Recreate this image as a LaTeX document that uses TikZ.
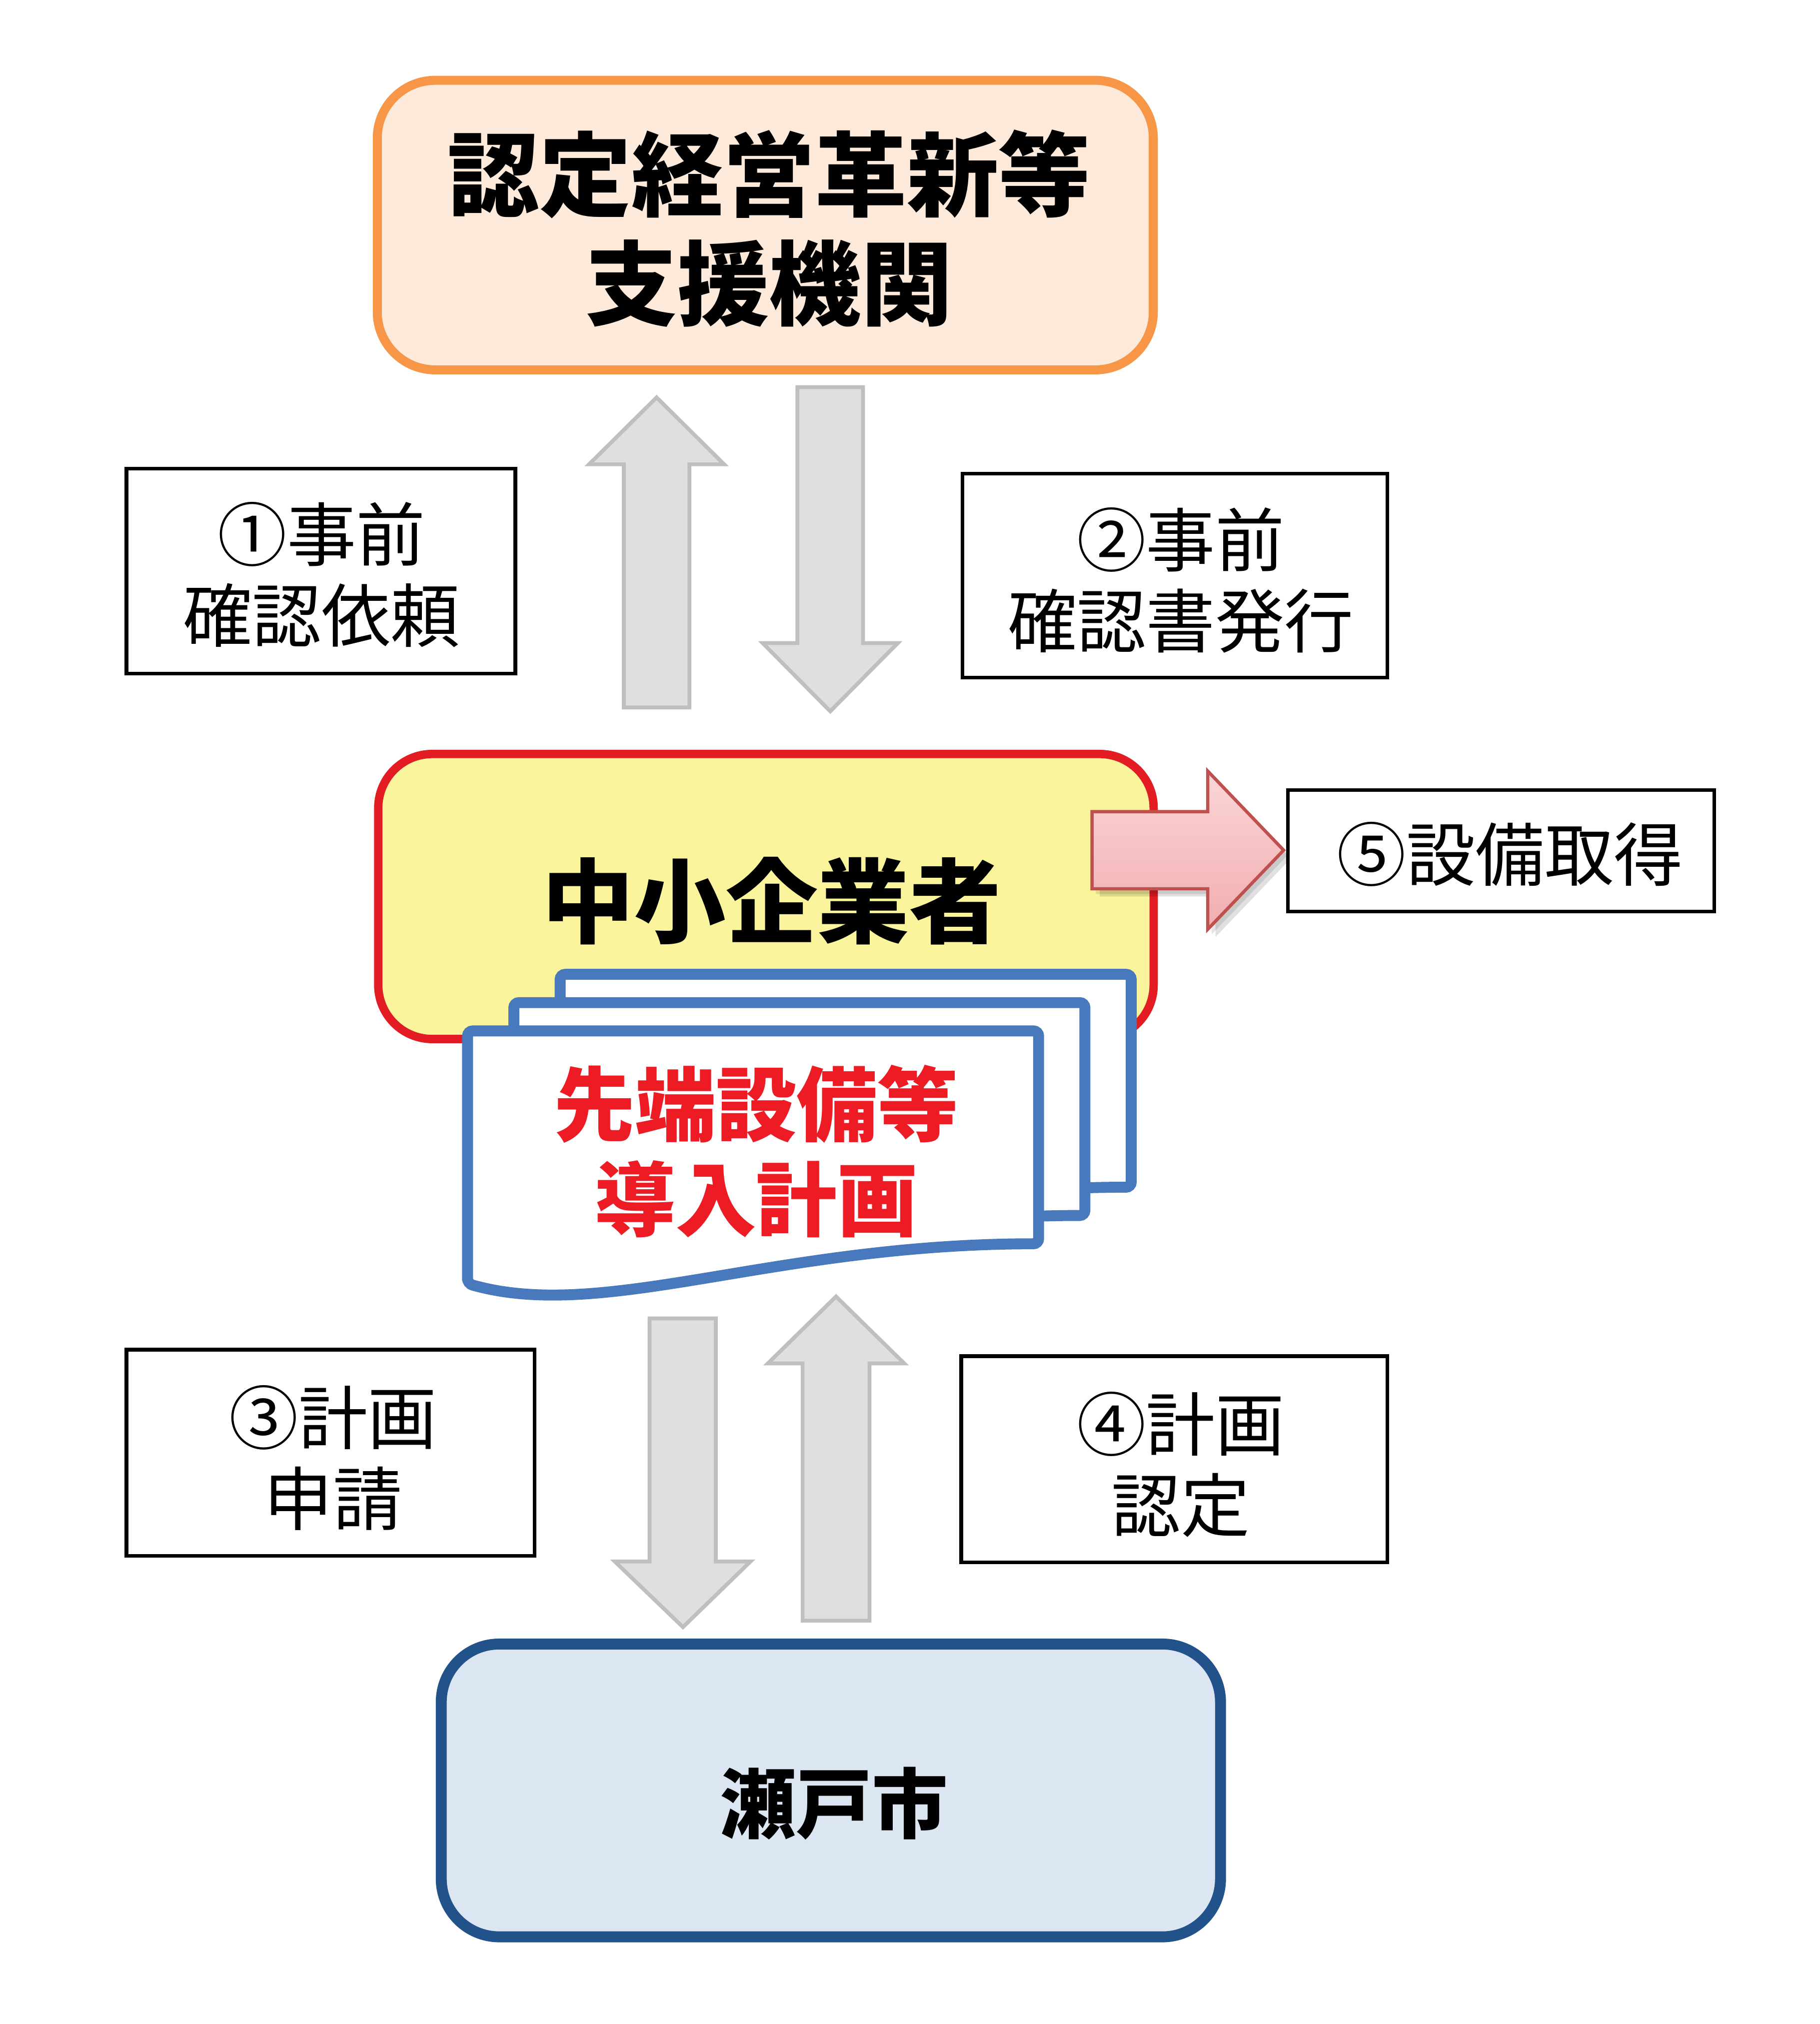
\documentclass[tikz,border=0pt]{standalone}
\usepackage{fontspec}
\setmainfont{Noto Sans CJK JP}
\definecolor{orgS}{HTML}{F79646}
\definecolor{orgF}{HTML}{FDEADA}
\definecolor{yelF}{HTML}{FAF49C}
\definecolor{redS}{HTML}{E31B23}
\definecolor{bluS}{HTML}{21528A}
\definecolor{bluF}{HTML}{DCE6F2}
\definecolor{pagS}{HTML}{4779BC}
\definecolor{docR}{HTML}{ED1C24}
\definecolor{gryF}{HTML}{DEDFE1}
\definecolor{gryS}{HTML}{BFBFBF}
\definecolor{arrS}{HTML}{C0504D}
\definecolor{arrT}{HTML}{FAD6D7}
\definecolor{arrB}{HTML}{F2ADB0}
\begin{document}
\begin{tikzpicture}[x=0.01cm,y=-0.01cm,
  bigbox/.style={draw,rounded corners=0.45cm,inner sep=0pt},
  labelbox/.style={draw=black,line width=0.028cm,fill=white,inner sep=0pt},
  labeltext/.style={align=center,inner sep=0pt,font=\fontsize{15.3pt}{17.9pt}\selectfont},
  headtext/.style={align=center,inner sep=0pt,font=\fontsize{20.3pt}{24.1pt}\selectfont\bfseries},
  grayarrow/.style={draw=gryS,fill=gryF,line width=0.03cm,line join=miter},
  pagestyle/.style={draw=pagS,fill=white,line width=0.085cm,rounded corners=0.04cm}]
\useasboundingbox (0,0) rectangle (1415,1573.6);

% --- top box
\node[bigbox,draw=orgS,fill=orgF,line width=0.07cm,minimum width=6.03cm,minimum height=2.25cm] (org) at (595,175) {};
\node[headtext] (orgT) at (598,177.5) {認定経営革新等\\支援機関};

% --- arrows between top box and company
\coordinate (a1tail) at (510.5,550);
\coordinate (a1tip) at (510.5,309);
\draw[grayarrow] (a1tail) ++(-25.5,0) -- ++(0,-189) -- ++(-27,0) -- (a1tip) -- ++(52.5,52) -- ++(-27,0) -- ++(0,189) -- cycle;
\coordinate (a2tail) at (645.5,301);
\coordinate (a2tip) at (645.5,553);
\draw[grayarrow] (a2tail) ++(-25.5,0) -- ++(0,199) -- ++(-27,0) -- (a2tip) -- ++(52.5,-53) -- ++(-27,0) -- ++(0,-199) -- cycle;

% --- labels 1 and 2
\node[labelbox,minimum width=3.022cm,minimum height=1.592cm] (b1) at (249.5,444) {};
\node[labeltext] (b1T) at (250,447) {①事前\\確認依頼};
\node[labelbox,minimum width=3.302cm,minimum height=1.582cm] (b2) at (913.5,447.5) {};
\node[labeltext] (b2T) at (918,451) {②事前\\確認書発行};

% --- company box
\node[bigbox,draw=redS,fill=yelF,line width=0.065cm,rounded corners=0.42cm,minimum width=6.025cm,minimum height=2.215cm] (sme) at (595.5,697) {};
\node[headtext] (smeT) at (600,700.5) {中小企業者};

% --- red arrow with shadow
\coordinate (a5tail) at (849,661);
\coordinate (a5tip) at (998,661);
\fill[black,opacity=0.10] (a5tail) ++(3,-26) -- ++(90,0) -- ++(0,-31.5) -- ++(59,61.5) -- ++(-59,61.5) -- ++(0,-31.5) -- ++(-90,0) -- cycle;
\fill[black,opacity=0.12] (a5tail) ++(6,-24) -- ++(90,0) -- ++(0,-31.5) -- ++(59,61.5) -- ++(-59,61.5) -- ++(0,-31.5) -- ++(-90,0) -- cycle;
\draw[draw=arrS,line width=0.025cm,top color=arrT,bottom color=arrB,line join=miter] (a5tail) ++(0,-30) -- ++(90,0) -- ++(0,-31.5) -- (a5tip) -- ++(-59,61.5) -- ++(0,-31.5) -- ++(-90,0) -- cycle;

% --- label 5
\node[labelbox,minimum width=3.312cm,minimum height=0.942cm] (b5) at (1167,661.5) {};
\node[labeltext] (b5T) at (1174,664) {⑤設備取得};

% --- document stack
\foreach \dx/\dy in {72/-44,36/-22,0/0}{
  \begin{scope}[shift={(\dx,\dy)}]
    \draw[pagestyle] (363.5,998) -- (363.5,801.5) -- (807.5,801.5) -- (807.5,967)
      .. controls (600,967) and (470,1028) .. (363.5,998) -- cycle;
  \end{scope}
}
\node[align=center,inner sep=0pt,text=docR,font=\fontsize{17.9pt}{21pt}\selectfont\bfseries] (docT) at (588,895) {先端設備等\\導入計画};

% --- arrows between company and city
\coordinate (a3tail) at (531,1025);
\coordinate (a3tip) at (531,1265);
\draw[grayarrow] (a3tail) ++(-26,0) -- ++(0,189) -- ++(-27,0) -- (a3tip) -- ++(52.5,-51) -- ++(-27,0) -- ++(0,-189) -- cycle;
\coordinate (a4tail) at (650,1260);
\coordinate (a4tip) at (650,1008);
\draw[grayarrow] (a4tail) ++(-26,0) -- ++(0,-200) -- ++(-27,0) -- (a4tip) -- ++(53,52) -- ++(-27,0) -- ++(0,200) -- cycle;

% --- labels 3 and 4
\node[labelbox,minimum width=3.172cm,minimum height=1.602cm] (b3) at (257,1129.5) {};
\node[labeltext] (b3T) at (259,1133.5) {③計画\\申請};
\node[labelbox,minimum width=3.312cm,minimum height=1.602cm] (b4) at (913,1134.5) {};
\node[labeltext] (b4T) at (918,1138.5) {④計画\\認定};

% --- city box
\node[bigbox,draw=bluS,fill=bluF,line width=0.085cm,minimum width=6.055cm,minimum height=2.275cm] (city) at (646,1392) {};
\node[inner sep=0pt,font=\fontsize{16.8pt}{20pt}\selectfont\bfseries] (cityT) at (648.5,1402) {瀬戸市};
\end{tikzpicture}
\end{document}
